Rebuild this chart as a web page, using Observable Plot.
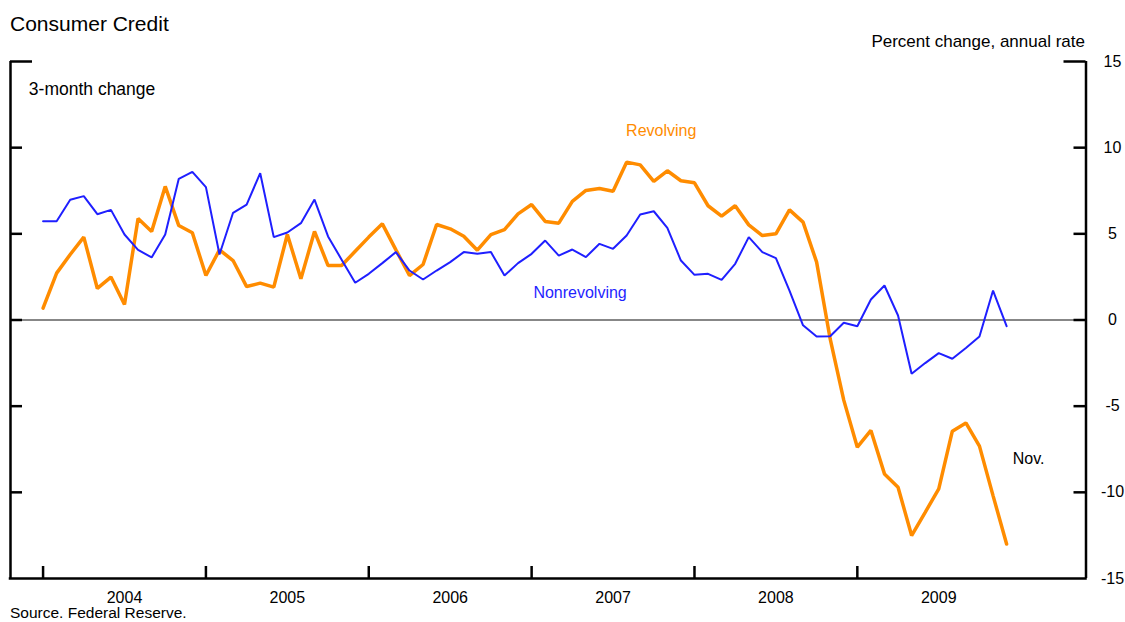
<!DOCTYPE html>
<html>
<head>
<meta charset="utf-8">
<script src="https://cdn.jsdelivr.net/npm/d3@7"></script>
<script src="https://cdn.jsdelivr.net/npm/@observablehq/plot@0.6"></script>
<style>
  body { margin: 0; background: #fff; }
  #wrap { position: relative; width: 1125px; height: 622px; overflow: hidden;
          font-family: "Liberation Sans", Arial, sans-serif; color: #000; background: #fff; }
  #head { position: relative; height: 48px; }
  .t { position: absolute; white-space: nowrap; line-height: 1; }
  #chart svg { display: block; }
</style>
</head>
<body>
<div id="wrap">
  <div id="head">
    <div class="t" style="left:10px; top:13px; font-size:21px;">Consumer Credit</div>
    <div class="t" style="right:40px; top:33px; font-size:17px;">Percent change, annual rate</div>
  </div>
  <div id="chart"></div>
  <div class="t" style="left:10px; top:605px; font-size:15.5px;">Source. Federal Reserve.</div>
</div>
<script>
// Monthly observations, Dec 2003 (index 0) through Nov 2009 (index 71)
const revolving = [
  0.69, 2.72, 3.80, 4.81, 1.83, 2.49, 0.90, 5.89, 5.14, 7.75, 5.48, 5.06,
  2.58, 4.07, 3.45, 1.94, 2.14, 1.91, 4.96, 2.39, 5.14, 3.16, 3.16, 3.99,
  4.81, 5.58, 4.07, 2.58, 3.22, 5.54, 5.29, 4.86, 4.05, 4.96, 5.25, 6.16,
  6.70, 5.72, 5.62, 6.88, 7.52, 7.63, 7.47, 9.16, 9.00, 8.04, 8.66, 8.08,
  7.96, 6.63, 6.03, 6.63, 5.52, 4.90, 5.00, 6.39, 5.68, 3.36, -1.10, -4.65,
  -7.38, -6.41, -8.93, -9.70, -12.51, -11.16, -9.80, -6.45, -5.97, -7.32, -10.19, -13.00
];
const nonrevolving = [
  5.73, 5.73, 6.98, 7.19, 6.14, 6.39, 4.96, 4.07, 3.63, 4.96, 8.19, 8.60,
  7.71, 3.80, 6.22, 6.70, 8.52, 4.81, 5.08, 5.62, 6.99, 4.85, 3.50, 2.16,
  2.68, 3.30, 3.94, 2.87, 2.35, 2.87, 3.36, 3.94, 3.84, 3.94, 2.58, 3.30,
  3.84, 4.61, 3.74, 4.09, 3.65, 4.42, 4.13, 4.90, 6.12, 6.31, 5.35, 3.45,
  2.62, 2.68, 2.33, 3.26, 4.81, 3.94, 3.59, 1.71, -0.31, -0.96, -0.94, -0.16,
  -0.36, 1.19, 2.00, 0.26, -3.12, -2.50, -1.92, -2.25, -1.62, -0.96, 1.71, -0.36
];
const yearLabels = ["2004", "2005", "2006", "2007", "2008", "2009"];
const yearBoundaries = [0, 12, 24, 36, 48, 60];     // month index of year ticks
const yearCenters = [6, 18, 30, 42, 54, 66];        // month index of year labels
const yTicks = [-15, -10, -5, 0, 5, 10, 15];
const yInnerTicks = [-10, -5, 0, 5, 10];
const yTopTick = [15];
const annotations = [
  {text: "Revolving", x: 42.96, y: 11.0, color: "#ff8c00", size: 16},
  {text: "Nonrevolving", x: 36.13, y: 1.56, color: "#1f1fff", size: 16},
  {text: "Nov.", x: 71.45, y: -8.05, color: "#000", size: 16},
  {text: "3-month change", x: -1.05, y: 13.39, color: "#000", size: 17.5}
];

const W = 1125, H = 556;
const mL = 10, mR = 39.5, mT = 13, mB = 26;
const frameW = W - mL - mR, frameH = H - mT - mB;
const xDomain = [-2.4, 76.85];
const idx = (d, i) => i;
const val = d => d;

const chart = Plot.plot({
  width: W, height: H,
  marginLeft: mL, marginRight: mR, marginTop: mT, marginBottom: mB,
  style: {fontFamily: '"Liberation Sans", Arial, sans-serif', fontSize: "16px", color: "#000", background: "#fff", overflow: "visible"},
  x: {type: "linear", domain: xDomain},
  y: {type: "linear", domain: [-15, 15]},
  marks: [
    Plot.axisY(yTicks, {anchor: "right", tickSize: 0, tickPadding: 26.5, textAnchor: "middle", tickFormat: d => String(d), fontSize: 16, label: null}),
    Plot.axisX(yearCenters, {anchor: "bottom", tickSize: 0, tickPadding: 13, tickFormat: d => yearLabels[yearCenters.indexOf(d)], fontSize: 16, label: null}),
    Plot.ruleY([0], {stroke: "#111", strokeWidth: 1.2}),
    Plot.lineY(revolving, {x: idx, y: val, stroke: "#ff8c00", strokeWidth: 3.5, strokeLinejoin: "miter"}),
    Plot.lineY(nonrevolving, {x: idx, y: val, stroke: "#1f1fff", strokeWidth: 2, strokeLinejoin: "miter"}),
    // frame (left, right, bottom; no top)
    Plot.ruleX([xDomain[0], xDomain[1]], {stroke: "#000", strokeWidth: 2.5}),
    Plot.ruleY([-15], {stroke: "#000", strokeWidth: 2.5, strokeLinecap: "square"}),
    // inward ticks
    Plot.tickY(yInnerTicks, {y: val, insetRight: frameW - 12, stroke: "#000", strokeWidth: 2.5}),
    Plot.tickY(yInnerTicks, {y: val, insetLeft: frameW - 12, stroke: "#000", strokeWidth: 2.5}),
    Plot.tickY(yTopTick, {y: val, insetRight: frameW - 22, stroke: "#000", strokeWidth: 2.5}),
    Plot.tickY(yTopTick, {y: val, insetLeft: frameW - 22, stroke: "#000", strokeWidth: 2.5}),
    Plot.tickX(yearBoundaries, {x: val, insetTop: frameH - 12, stroke: "#000", strokeWidth: 2.5}),
    // labels
    Plot.text(annotations, {x: "x", y: "y", text: "text", fill: "color", fontSize: d => d.size, textAnchor: "start"})
  ]
});
document.getElementById("chart").appendChild(chart);
</script>
</body>
</html>
